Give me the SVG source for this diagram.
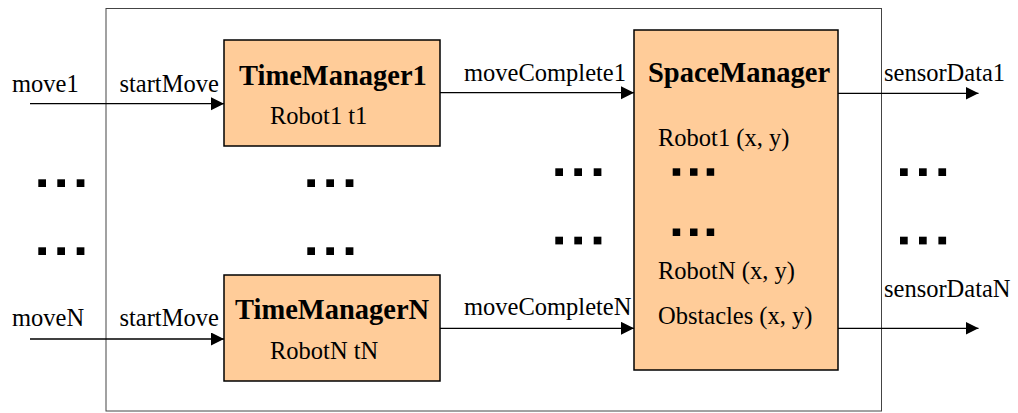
<svg xmlns="http://www.w3.org/2000/svg" xmlns:xlink="http://www.w3.org/1999/xlink" width="1018" height="413" viewBox="0 0 1018 413">
<style>
  .t { font-family: "Liberation Serif", "Times New Roman", serif; font-size: 24.5px; fill: #000; }
  .b { font-family: "Liberation Serif", "Times New Roman", serif; font-size: 28.5px; font-weight: bold; fill: #000; }
  .box { fill: #FFCC99; stroke: #000; stroke-width: 1.5; }
  .conn { stroke: #000; stroke-width: 1.3; fill: none; marker-end: url(#arr); }
</style>
<defs>
  <marker id="arr" markerUnits="userSpaceOnUse" markerWidth="14" markerHeight="14" refX="13" refY="6.5" orient="auto">
    <path d="M0,0 L13,6.5 L0,13 Z" fill="#000"/>
  </marker>
  <g id="dots3">
    <rect x="0" y="0" width="7.7" height="7.7" fill="#000"/>
    <rect x="19" y="0" width="7.7" height="7.7" fill="#000"/>
    <rect x="38.4" y="0" width="7.7" height="7.7" fill="#000"/>
  </g>
  <g id="dots3s">
    <rect x="0" y="0" width="7.5" height="7.5" fill="#000"/>
    <rect x="17.3" y="0" width="7.5" height="7.5" fill="#000"/>
    <rect x="34" y="0" width="7.5" height="7.5" fill="#000"/>
  </g>
</defs>
<rect width="1018" height="413" fill="#fff"/>
<g id="boundary">
  <rect x="106" y="8.5" width="775.5" height="402.5" fill="none" stroke="#444" stroke-width="1"/>
</g>
<g id="timeManager1">
  <rect class="box" x="224" y="40" width="216" height="106"/>
  <text class="b" x="239" y="85">TimeManager1</text>
  <text class="t" x="270" y="124">Robot1 t1</text>
</g>
<g id="timeManagerN">
  <rect class="box" x="224" y="275" width="216" height="106"/>
  <text class="b" x="235" y="319">TimeManagerN</text>
  <text class="t" x="270" y="359">RobotN tN</text>
</g>
<g id="spaceManager">
  <rect class="box" x="634" y="30" width="204" height="340"/>
  <text class="b" x="648" y="82">SpaceManager</text>
  <text class="t" x="658" y="146">Robot1 (x, y)</text>
  <use xlink:href="#dots3s" x="672.7" y="168.3"/>
  <use xlink:href="#dots3s" x="672.7" y="228.5"/>
  <text class="t" x="658" y="279">RobotN (x, y)</text>
  <text class="t" x="658" y="324">Obstacles (x, y)</text>
</g>
<g id="connectors">
  <line class="conn" x1="30" y1="103.7" x2="224" y2="103.7"/>
  <line class="conn" x1="30" y1="339" x2="224" y2="339"/>
  <line class="conn" x1="440" y1="92.7" x2="634" y2="92.7"/>
  <line class="conn" x1="440" y1="328.3" x2="634" y2="328.3"/>
  <line class="conn" x1="838" y1="93.3" x2="978.5" y2="93.3"/>
  <line class="conn" x1="838" y1="328.3" x2="978.5" y2="328.3"/>
</g>
<g id="labels">
  <text class="t" x="12" y="92">move1</text>
  <text class="t" x="119.5" y="92">startMove</text>
  <text class="t" x="12" y="326">moveN</text>
  <text class="t" x="119.5" y="326">startMove</text>
  <text class="t" x="464" y="81">moveComplete1</text>
  <text class="t" x="464" y="315">moveCompleteN</text>
  <text class="t" x="884" y="81">sensorData1</text>
  <text class="t" x="884" y="297">sensorDataN</text>
</g>
<g id="ellipses">
  <use xlink:href="#dots3" x="38.3" y="179.3"/>
  <use xlink:href="#dots3" x="38.3" y="247.3"/>
  <use xlink:href="#dots3" x="307.3" y="179.3"/>
  <use xlink:href="#dots3" x="307.3" y="247.3"/>
  <use xlink:href="#dots3" x="555.3" y="168.3"/>
  <use xlink:href="#dots3" x="555.3" y="236.7"/>
  <use xlink:href="#dots3" x="900" y="168.3"/>
  <use xlink:href="#dots3" x="900" y="236.7"/>
</g>
</svg>
